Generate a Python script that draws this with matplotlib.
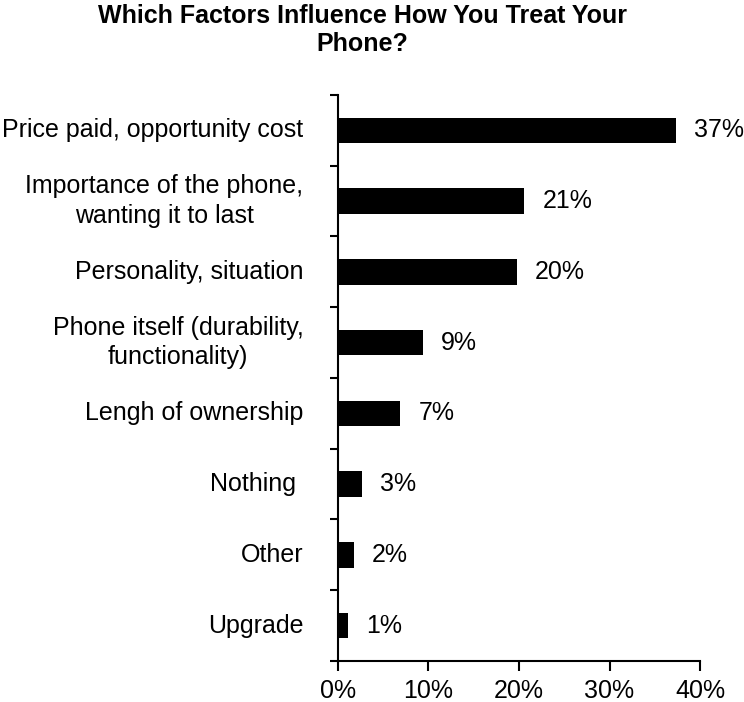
import matplotlib
matplotlib.use("Agg")
import matplotlib.pyplot as plt
from matplotlib.ticker import FuncFormatter

# data (top to bottom)
factors = ["Price paid, opportunity cost",
           "Importance of the phone,\nwanting it to last",
           "Personality, situation",
           "Phone itself (durability,\nfunctionality)",
           "Lengh of ownership",
           "Nothing ",
           "Other",
           "Upgrade"]
shares = [37.3, 20.6, 19.8, 9.4, 6.9, 2.7, 1.8, 1.1]
share_labels = ["37%", "21%", "20%", "9%", "7%", "3%", "2%", "1%"]

plt.rcParams['font.family'] = ['Liberation Sans', 'DejaVu Sans']
fs = 18

fig = plt.figure(figsize=(7.44, 7.02), dpi=100)
ax = fig.add_axes([0.454, 0.0584, 0.487, 0.8063])

n = len(factors)
ypos = list(range(n))[::-1]
ax.barh(ypos, shares, height=0.36, color='black')

for y, v, lab in zip(ypos, shares, share_labels):
    ax.text(v + 2.0, y, lab, va='center', ha='left', fontsize=fs)

ax.set_xlim(0, 40)
ax.set_ylim(-0.5, n - 0.5)
ax.set_xticks([0, 10, 20, 30, 40])
ax.xaxis.set_major_formatter(FuncFormatter(lambda x, p: f"{x:.0f}%"))
ax.tick_params(axis='x', direction='out', length=7, width=1.5, labelsize=fs, pad=6)

# category ticks sit between bars
ax.set_yticks([i - 0.5 for i in range(n + 1)])
ax.set_yticklabels([])
ax.tick_params(axis='y', direction='out', length=6, width=1.5)
for y, name in zip(ypos, factors):
    ax.text(-3.8, y, name, ha='right', va='center', multialignment='center',
            fontsize=fs, linespacing=1.3, transform=ax.transData)

for s in ['top', 'right']:
    ax.spines[s].set_visible(False)
for s in ['left', 'bottom']:
    ax.spines[s].set_linewidth(1.5)

fig.text(0.487, 0.995, "Which Factors Influence How You Treat Your\nPhone?",
         ha='center', va='top', fontsize=18, fontweight='bold',
         linespacing=1.25)

fig.savefig("out.png", dpi=100)
